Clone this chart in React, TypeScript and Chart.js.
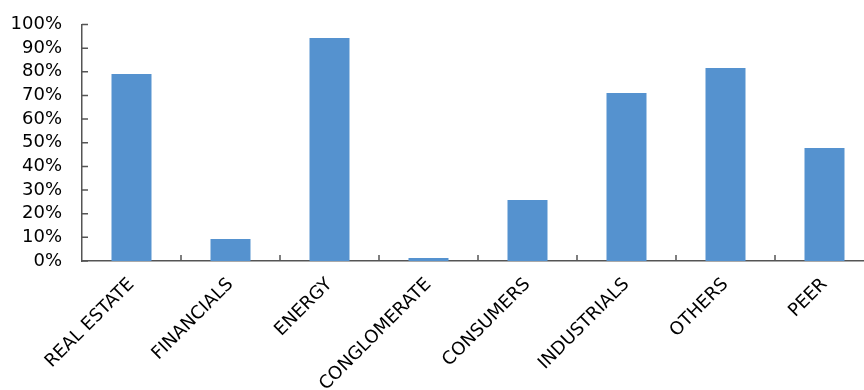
import React, { useEffect, useRef } from "react";
import { Chart, registerables } from "chart.js";

Chart.register(...registerables);

const categories = [
  "REAL ESTATE",
  "FINANCIALS",
  "ENERGY",
  "CONGLOMERATE",
  "CONSUMERS",
  "INDUSTRIALS",
  "OTHERS",
  "PEER",
];
const shares = [79.1, 9.3, 94.3, 1.3, 25.8, 71.0, 81.6, 47.8];
const yTicks = [0, 10, 20, 30, 40, 50, 60, 70, 80, 90, 100];

const BAR_COLOR = "#5592cf";
const AXIS_COLOR = "#555555";
const FONT = "'DejaVu Sans', Verdana, sans-serif";

// Short tick marks pointing into the plot area, as in office-style charts.
const innerTicks = {
  id: "innerTicks",
  afterDatasetsDraw(chart: any) {
    const { ctx } = chart;
    const x = chart.scales.x;
    const y = chart.scales.y;
    ctx.save();
    ctx.strokeStyle = AXIS_COLOR;
    ctx.lineWidth = 1.5;
    ctx.beginPath();
    y.ticks.forEach((_t: any, i: number) => {
      const py = y.getPixelForTick(i);
      ctx.moveTo(x.left, py);
      ctx.lineTo(x.left + 6, py);
    });
    const n = categories.length;
    for (let i = 0; i < n; i++) {
      const c = x.getPixelForTick(i);
      const half = (x.width / n) / 2;
      const bx = c + half;
      ctx.moveTo(bx, y.bottom);
      ctx.lineTo(bx, y.bottom - 6);
    }
    ctx.stroke();
    ctx.restore();
  },
};

export default function App() {
  const ref = useRef<HTMLCanvasElement | null>(null);

  useEffect(() => {
    if (!ref.current) return;
    const chart = new Chart(ref.current, {
      type: "bar",
      data: {
        labels: categories,
        datasets: [
          {
            data: shares,
            backgroundColor: BAR_COLOR,
            borderWidth: 0,
            barPercentage: 0.404,
            categoryPercentage: 1,
          },
        ],
      },
      options: {
        animation: false,
        responsive: false,
        devicePixelRatio: 1,
        layout: { padding: { top: 24.5, right: 2, left: 0, bottom: 0 } },
        plugins: {
          legend: { display: false },
          tooltip: { enabled: false },
        },
        scales: {
          x: {
            offset: true,
            grid: { display: false, drawTicks: false },
            border: { display: true, color: AXIS_COLOR, width: 1.5 },
            ticks: {
              autoSkip: false,
              minRotation: 45,
              maxRotation: 45,
              padding: 13,
              color: "#000000",
              font: { family: FONT, size: 18 },
            },
            afterFit(scale: any) {
              scale.height = 140;
              scale.paddingLeft = 0;
              scale.paddingRight = 0;
            },
          },
          y: {
            min: 0,
            max: 100,
            afterBuildTicks(scale: any) {
              scale.ticks = yTicks.map((v) => ({ value: v }));
            },
            grid: { display: false, drawTicks: false },
            border: { display: true, color: AXIS_COLOR, width: 1.5 },
            ticks: {
              autoSkip: false,
              padding: 20,
              color: "#000000",
              font: { family: FONT, size: 18 },
              callback: (v: any) => `${v}%`,
            },
            afterFit(scale: any) {
              scale.width = 82;
              scale.paddingTop = 0;
              scale.paddingBottom = 0;
            },
          },
        },
      },
      plugins: [innerTicks],
    });
    return () => chart.destroy();
  }, []);

  return (
    <div
      style={{
        position: "fixed",
        left: 0,
        top: 0,
        width: 864,
        height: 390,
        overflow: "hidden",
        background: "#ffffff",
      }}
    >
      <canvas
        ref={ref}
        width={876}
        height={401}
        style={{ position: "absolute", left: 0, top: 0, width: 876, height: 401 }}
      />
    </div>
  );
}
